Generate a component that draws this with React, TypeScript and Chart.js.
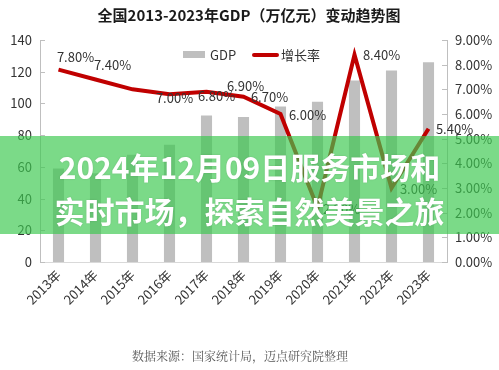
import React, { useEffect, useRef } from "react";
import { Chart, registerables } from "chart.js";

Chart.register(...registerables);

const years = ["2013年", "2014年", "2015年", "2016年", "2017年", "2018年", "2019年", "2020年", "2021年", "2022年", "2023年"];
const gdp = [59, 56, 67.6, 74, 92.4, 91.4, 98, 101, 114.5, 120.7, 126];
const growth = [7.8, 7.4, 7.0, 6.8, 6.9, 6.7, 6.0, 2.2, 8.4, 3.0, 5.4];
const leftMax = 140;
const leftStep = 20;
const rightMax = 9;
const rightStep = 1;
const labelDx = [17, 17, 42, 47, 39, 26, 27, 24, 27, 27, 26];
const labelDy = [-13, -14, 9, 2, -6, 0, 1, 1, 0, 1, 0];

const titleText = "全国2013-2023年GDP（万亿元）变动趋势图";
const footerText = "数据来源：国家统计局，迈点研究院整理";
const bannerLine1 = "2024年12月09日服务市场和";
const bannerLine2 = "实时市场，探索自然美景之旅";

const FONT = "'Noto Sans CJK SC', 'Noto Sans', sans-serif";
const BAR = "#bfbfbf";
const RED = "#c00000";
const TXT = "#333333";

const decor = {
  id: "decor",
  afterDraw(chart: any) {
    const ctx = chart.ctx;
    const ca = chart.chartArea;
    ctx.save();
    ctx.fillStyle = "#1a1a1a";
    ctx.font = `bold 15px ${FONT}`;
    ctx.textAlign = "center";
    ctx.textBaseline = "middle";
    ctx.fillText(titleText, 249, 15);
    ctx.fillStyle = "#595959";
    ctx.font = `12px 'Noto Serif CJK SC', ${FONT}`;
    ctx.fillText(footerText, 240, 356);

    ctx.strokeStyle = "#bfbfbf";
    ctx.lineWidth = 1;
    const yl = chart.scales.y;
    const yr = chart.scales.y1;
    yl.ticks.forEach((t: any) => {
      const py = Math.round(yl.getPixelForValue(t.value)) + 0.5;
      ctx.beginPath();
      ctx.moveTo(ca.left, py);
      ctx.lineTo(ca.left + 5, py);
      ctx.stroke();
    });
    yr.ticks.forEach((t: any) => {
      const py = Math.round(yr.getPixelForValue(t.value)) + 0.5;
      ctx.beginPath();
      ctx.moveTo(ca.right - 5, py);
      ctx.lineTo(ca.right, py);
      ctx.stroke();
    });

    ctx.font = `13px ${FONT}`;
    ctx.textAlign = "left";
    ctx.fillStyle = BAR;
    ctx.fillRect(183, 51, 22, 7);
    ctx.fillStyle = TXT;
    ctx.fillText("GDP", 210, 55);
    ctx.strokeStyle = RED;
    ctx.lineWidth = 4;
    ctx.lineCap = "round";
    ctx.beginPath();
    ctx.moveTo(254, 55);
    ctx.lineTo(277, 55);
    ctx.stroke();
    ctx.fillStyle = TXT;
    ctx.fillText("增长率", 281, 55);

    const meta = chart.getDatasetMeta(1);
    ctx.textAlign = "center";
    ctx.font = `13px ${FONT}`;
    meta.data.forEach((pt: any, i: number) => {
      ctx.fillText(growth[i].toFixed(2) + "%", pt.x + labelDx[i], pt.y + labelDy[i]);
    });
    ctx.restore();
  },
};

export default function App() {
  const ref = useRef<HTMLCanvasElement | null>(null);

  useEffect(() => {
    document.body.style.margin = "0";
    const chart = new Chart(ref.current as HTMLCanvasElement, {
      type: "bar",
      data: {
        labels: years,
        datasets: [
          {
            type: "bar",
            label: "GDP",
            data: gdp,
            backgroundColor: BAR,
            yAxisID: "y",
            barPercentage: 0.6,
            categoryPercentage: 0.5,
            order: 1,
          },
          {
            type: "line",
            label: "增长率",
            data: growth,
            borderColor: RED,
            borderWidth: 4,
            pointRadius: 0,
            tension: 0,
            yAxisID: "y1",
            order: 0,
          } as any,
        ],
      },
      options: {
        animation: false,
        responsive: true,
        maintainAspectRatio: false,
        layout: { padding: { top: 40, left: 0, right: 0, bottom: 0 } },
        plugins: {
          legend: { display: false },
          tooltip: { enabled: false },
          title: { display: false },
        },
        scales: {
          x: {
            offset: true,
            grid: { display: false, drawTicks: false },
            border: { display: true, color: "#d9d9d9", width: 1 },
            ticks: {
              color: TXT,
              font: { family: FONT, size: 13 },
              minRotation: 45,
              maxRotation: 45,
              padding: 5,
              autoSkip: false,
            },
            afterFit: (s: any) => {
              s.height = 108;
            },
          },
          y: {
            position: "left",
            min: 0,
            max: leftMax,
            grid: { display: false, drawTicks: false },
            border: { display: true, color: "#bfbfbf", width: 1 },
            ticks: {
              stepSize: leftStep,
              color: TXT,
              font: { family: FONT, size: 13 },
              padding: 8,
            },
            afterFit: (s: any) => {
              s.width = 40;
            },
          },
          y1: {
            position: "right",
            min: 0,
            max: rightMax,
            grid: { display: false, drawTicks: false },
            border: { display: true, color: "#bfbfbf", width: 1 },
            ticks: {
              stepSize: rightStep,
              color: TXT,
              font: { family: FONT, size: 13 },
              padding: 8,
              callback: (v: any) => Number(v).toFixed(2) + "%",
            },
            afterFit: (s: any) => {
              s.width = 52;
            },
          },
        },
      },
      plugins: [decor],
    });
    return () => chart.destroy();
  }, []);

  return (
    <div style={{ position: "relative", width: 499, height: 370, background: "#fff", overflow: "hidden" }}>
      <canvas ref={ref} />
      <div
        style={{
          position: "absolute",
          left: 0,
          top: 136,
          width: 499,
          height: 98,
          background: "rgba(60,200,80,0.68)",
          color: "#fff",
          fontFamily: FONT,
          fontWeight: 700,
          fontSize: 30,
          lineHeight: "44px",
          textAlign: "center",
          paddingTop: 8,
          boxSizing: "border-box",
          textShadow: "0 0 2px rgba(0,0,0,0.15)",
        }}
      >
        <div>{bannerLine1}</div>
        <div>{bannerLine2}</div>
      </div>
    </div>
  );
}
